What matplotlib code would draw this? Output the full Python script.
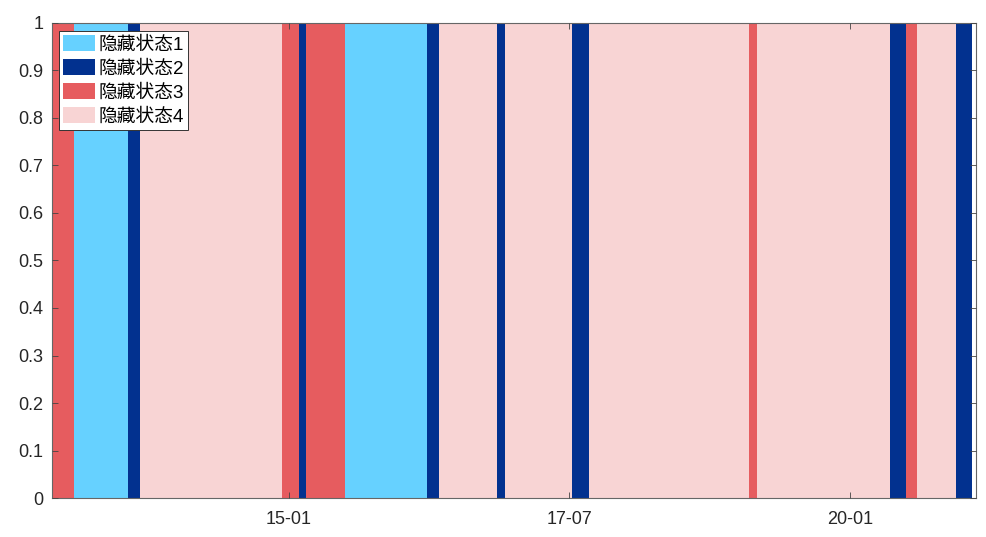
import matplotlib
matplotlib.use("Agg")
import matplotlib.pyplot as plt
import matplotlib.dates as mdates
import numpy as np
import pandas as pd

# ---- data ----
boundaries = ['2012-11-27', '2013-02-04', '2013-07-27', '2013-09-04', '2014-12-11',
              '2015-02-04', '2015-02-28', '2015-07-03', '2016-03-25', '2016-05-04',
              '2016-11-09', '2016-12-04', '2017-07-11', '2017-09-02', '2019-02-05',
              '2019-03-03', '2020-05-10', '2020-06-30', '2020-08-04', '2020-12-10',
              '2021-02-01']
states = [3, 1, 2, 4, 3, 2, 3, 1, 2, 4, 2, 4, 2, 4, 3, 4, 2, 3, 4, 2]
state_labels = ['隐藏状态1', '隐藏状态2', '隐藏状态3', '隐藏状态4']
xtick_dates = ['2015-01-01', '2017-07-01', '2020-01-01']
xlim_dates = ['2012-11-22', '2021-02-11']
state_colors = ['#66D1FF', '#02318F', '#E65C5F', '#F8D4D4']

plt.rcParams['font.family'] = ['Liberation Sans', 'Noto Sans CJK SC']

b = pd.to_datetime(boundaries)
starts = mdates.date2num(b[:-1])
widths = np.diff(mdates.date2num(b))
st = np.array(states)

fig = plt.figure(figsize=(9.87, 5.37), dpi=100)
ax = fig.add_axes([0.0524, 0.0721, 0.9360, 0.8860])

for k in range(4):
    m = st == (k + 1)
    ax.bar(starts[m], np.ones(m.sum()), width=widths[m], align='edge',
           color=state_colors[k], edgecolor='none', linewidth=0, label=state_labels[k])

ax.set_xlim(mdates.date2num(pd.to_datetime(xlim_dates[0])),
            mdates.date2num(pd.to_datetime(xlim_dates[1])))
ax.set_ylim(0, 1)
ax.set_xticks(mdates.date2num(pd.to_datetime(xtick_dates)))
ax.xaxis.set_major_formatter(mdates.DateFormatter('%y-%m'))
ax.set_yticks(np.round(np.arange(0, 1.01, 0.1), 1))
ax.set_yticklabels(['%g' % v for v in np.round(np.arange(0, 1.01, 0.1), 1)])

ax.set_axisbelow(False)
ax.tick_params(direction='in', length=4.3, width=0.6, color='#444444',
               labelsize=13, labelcolor='#262626', top=True, right=True)
ax.tick_params(axis='y', pad=6)
ax.tick_params(axis='x', pad=9)
for s in ax.spines.values():
    s.set_color('#666666')
    s.set_linewidth(0.8)

leg = ax.legend(loc='upper left', bbox_to_anchor=(0.008, 0.982), borderaxespad=0,
                fontsize=13.5, frameon=True, fancybox=False, framealpha=1,
                edgecolor='#333333', handlelength=1.7, handleheight=0.95,
                handletextpad=0.2, labelspacing=0.3, borderpad=0.2)
leg.get_frame().set_linewidth(0.7)

fig.savefig('out.png', dpi=100)
